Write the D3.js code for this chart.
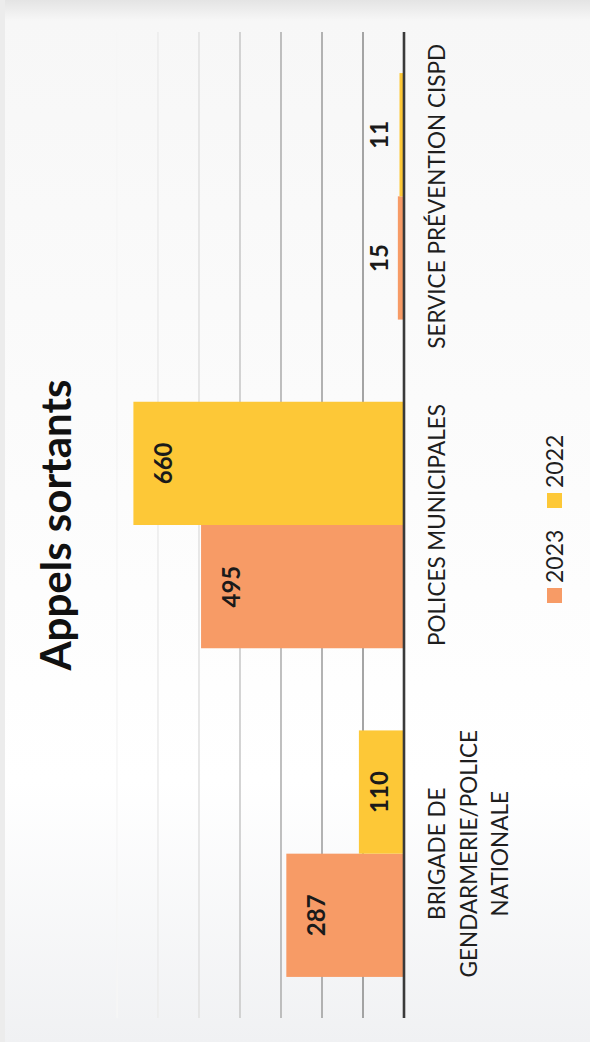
<!DOCTYPE html>
<html>
<head>
<meta charset="utf-8">
<script src="https://cdn.jsdelivr.net/npm/d3@7"></script>
<style>
html,body{margin:0;padding:0;background:#fff;}
svg{display:block;}
</style>
</head>
<body>
<svg id="chart" width="590" height="1042"></svg>
<script>
// ---- data ----
const categories = ["BRIGADE DE GENDARMERIE/POLICE NATIONALE", "POLICES MUNICIPALES", "SERVICE PRÉVENTION CISPD"];
const categoryLines = [["BRIGADE DE", "GENDARMERIE/POLICE", "NATIONALE"], ["POLICES MUNICIPALES"], ["SERVICE PRÉVENTION CISPD"]];
const seriesNames = ["2023", "2022"];
const values2023 = [287, 495, 15];
const values2022 = [110, 660, 11];
const gridTicks = [100, 200, 300, 400, 500, 600, 700];
const title = "Appels sortants";

const W = 590, H = 1042;
const colors = {"2023": "#F79B66", "2022": "#FDC837"};
const gridColors = ["#8f8f8f", "#a0a0a0", "#b0b0b0", "#c9c9c9", "#e2e2e2", "#ececec", "#f6f6f6"];

const svg = d3.select("#chart");

// background with scanned-paper edges
const defs = svg.append("defs");
const gv = defs.append("linearGradient").attr("id", "bgv").attr("x1", 0).attr("y1", 0).attr("x2", 0).attr("y2", 1);
gv.append("stop").attr("offset", "0").attr("stop-color", "#e4e4e4");
gv.append("stop").attr("offset", "0.02").attr("stop-color", "#f7f7f7");
gv.append("stop").attr("offset", "0.75").attr("stop-color", "#ffffff");
gv.append("stop").attr("offset", "1").attr("stop-color", "#f0f1f3");
svg.append("rect").attr("width", W).attr("height", H).attr("fill", "url(#bgv)");
svg.append("rect").attr("width", 5).attr("height", H).attr("fill", "#ececec");

// rotated chart: original landscape chart turned 90° counter-clockwise
const g = svg.append("g").attr("transform", `translate(0,${H}) rotate(-90)`);

const x0 = d3.scaleBand().domain(categories).range([24, 1010]).paddingInner(0.25).paddingOuter(0.125);
const x1 = d3.scaleBand().domain(seriesNames).range([0, x0.bandwidth()]);
const y = d3.scaleLinear().domain([0, 700]).range([404, 117]);

// gridlines
g.append("g").selectAll("line").data(gridTicks).join("line")
  .attr("x1", 24).attr("x2", 1010)
  .attr("y1", d => y(d)).attr("y2", d => y(d))
  .attr("stroke", (d, i) => gridColors[i]).attr("stroke-width", 1.6);

// bars
const rows = categories.map((c, i) => ({cat: c, vals: [{s: "2023", v: values2023[i]}, {s: "2022", v: values2022[i]}]}));
const grp = g.append("g").selectAll("g").data(rows).join("g")
  .attr("transform", d => `translate(${x0(d.cat)},0)`);
grp.selectAll("rect").data(d => d.vals).join("rect")
  .attr("x", d => x1(d.s)).attr("width", x1.bandwidth())
  .attr("y", d => y(d.v)).attr("height", d => y(0) - y(d.v))
  .attr("fill", d => colors[d.s]);
grp.selectAll("text").data(d => d.vals).join("text")
  .attr("x", d => x1(d.s) + x1.bandwidth() / 2)
  .attr("y", d => Math.min(y(d.v) + 29, y(0) - 26))
  .attr("text-anchor", "middle").attr("dominant-baseline", "central")
  .attr("font-family", "Lato, sans-serif").attr("font-weight", 700).attr("font-size", 24)
  .attr("fill", "#1a1a1a")
  .text(d => d.v);

// axis baseline
g.append("line").attr("x1", 24).attr("x2", 1010).attr("y1", y(0)).attr("y2", y(0))
  .attr("stroke", "#3a3a3a").attr("stroke-width", 2.6);

// category labels
const lab = g.append("g").selectAll("text").data(categories).join("text")
  .attr("text-anchor", "middle")
  .attr("font-family", "Lato, sans-serif").attr("font-size", 22.5).attr("fill", "#1e1e1e");
lab.each(function(c, i) {
  d3.select(this).selectAll("tspan").data(categoryLines[i]).join("tspan")
    .attr("x", x0(c) + x0.bandwidth() / 2)
    .attr("y", (d, j) => 445 + j * 31.5)
    .text(d => d);
});

// title
g.append("text").attr("x", (24 + 1010) / 2).attr("y", 71)
  .attr("text-anchor", "middle")
  .attr("font-family", "Lato, sans-serif").attr("font-weight", 700).attr("font-size", 42)
  .attr("fill", "#111").text(title);

// legend
const legX = [439, 534];
const leg = g.append("g").selectAll("g").data(seriesNames).join("g")
  .attr("transform", (d, i) => `translate(${legX[i]},547)`);
leg.append("rect").attr("width", 15).attr("height", 15).attr("fill", d => colors[d]);
leg.append("text").attr("x", 20).attr("y", 16)
  .attr("font-family", "Lato, sans-serif").attr("font-size", 23).attr("fill", "#1e1e1e")
  .text(d => d);
</script>
</body>
</html>
